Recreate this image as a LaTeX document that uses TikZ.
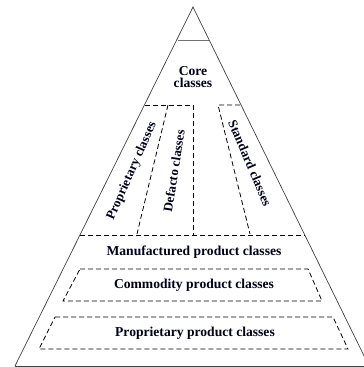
\documentclass[tikz,border=0pt]{standalone}
\usepackage{fontspec}
\setmainfont{Liberation Serif}
\begin{document}
\begin{tikzpicture}[x=1pt,y=-1pt,
  edge/.style={draw=black!75,line width=0.7pt},
  part/.style={draw=black,line width=0.8pt,dash pattern=on 5pt off 3pt},
  label/.style={font=\fontsize{13.6}{14.5}\selectfont\bfseries,text=black!90!blue,inner sep=0pt,align=center},
  sidelabel/.style={label,font=\fontsize{13}{14}\selectfont\bfseries}]
\useasboundingbox (0,0) rectangle (364,367);
\clip (0,0) rectangle (364,367);

% outline of the pyramid
\coordinate (apex) at (193,7);
\coordinate (bl) at (15,366);
\coordinate (br) at (369,366);
\draw[edge] (bl) -- (apex) -- (br);
\draw[edge,line width=0.9pt] (bl) -- (br);
\draw[edge,draw=black!55] (178,40) -- (209,40);

% upper partition: proprietary, defacto and standard classes
\coordinate (pt) at (145,105);
\coordinate (dt) at (193,105);
\coordinate (db) at (193,235);
\coordinate (ml) at (80,235);
\coordinate (mr) at (305,235);
\draw[part] (pt) -- (dt) -- (db);
\draw[part] (168,105) -- (137,234);
\draw[part] (240,105) -- (218,105) -- (250,234);
\draw[part] (ml) -- (mr);

% lower partitions
\draw[part] (80,269) -- (308,269) -- (322,301) -- (63,301) -- cycle;
\draw[part] (55,317) -- (333,317) -- (348,349) -- (39,349) -- cycle;

% labels
\node[label] (core) at (193,77) {Core\\[-2pt]classes};
\node[sidelabel,rotate=66] (prop) at (132,171) {Proprietary classes};
\node[sidelabel,rotate=81] (defacto) at (174,171) {Defacto classes};
\node[sidelabel,rotate=-67] (std) at (250,163) {Standard classes};
\node[label] (manu) at (194,252) {Manufactured product classes};
\node[label] (comm) at (194,285) {Commodity product classes};
\node[label] (ppc) at (195,333) {Proprietary product classes};
\end{tikzpicture}
\end{document}
